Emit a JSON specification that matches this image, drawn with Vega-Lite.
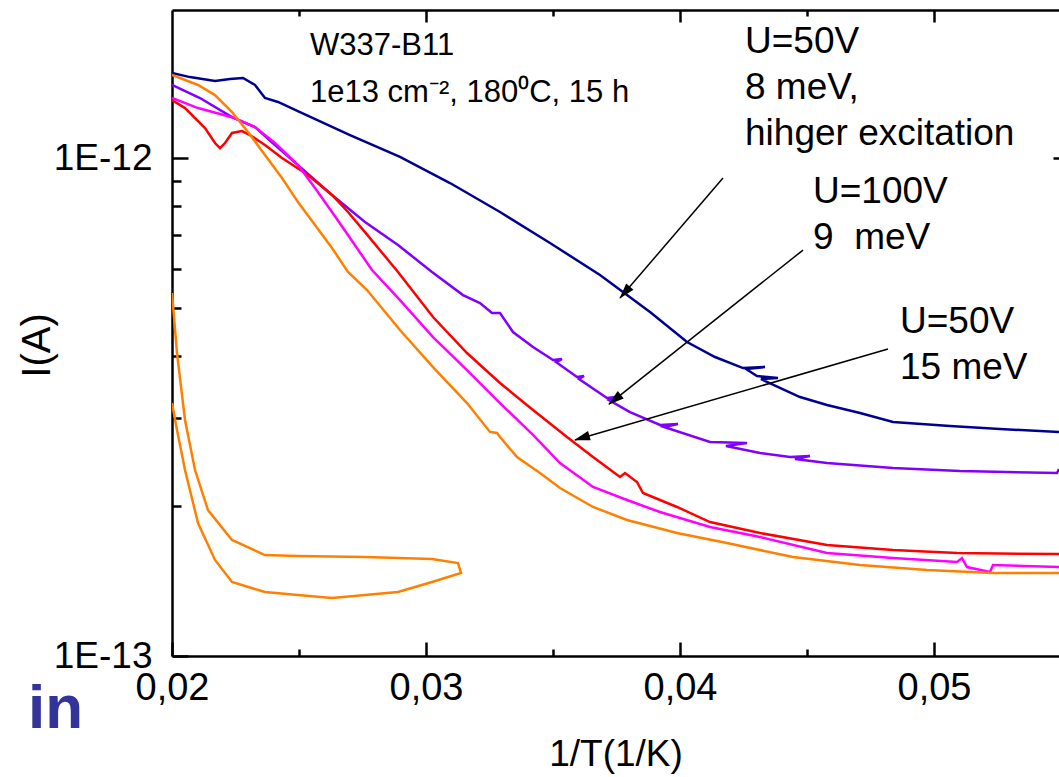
{
  "$schema": "https://vega.github.io/schema/vega-lite/v6.json",
  "width": 887,
  "height": 646,
  "autosize": {"type": "none"},
  "padding": {"left": 172, "top": 10, "right": 0, "bottom": 121},
  "background": "white",
  "config": {
    "view": {"stroke": null},
    "font": "Liberation Sans",
    "axis": {
      "grid": false, "domainColor": "black", "tickColor": "black", "labelColor": "black", "titleColor": "black",
      "domainWidth": 2.5, "tickWidth": 2.5, "labelFont": "Liberation Sans", "titleFont": "Liberation Sans",
      "titleFontWeight": "normal", "labelFlush": false, "labelOverlap": false, "labelBound": false, "offset": 0
    }
  },
  "datasets": {
    "curves": [
      {"s":"navy","i":0,"x":0.02,"y":1.482e-12},{"s":"navy","i":1,"x":0.020709,"y":1.454e-12},{"s":"navy","i":2,"x":0.021693,"y":1.428e-12},{"s":"navy","i":3,"x":0.022283,"y":1.441e-12},{"s":"navy","i":4,"x":0.022795,"y":1.448e-12},{"s":"navy","i":5,"x":0.023268,"y":1.402e-12},{"s":"navy","i":6,"x":0.023661,"y":1.32e-12},{"s":"navy","i":7,"x":0.024173,"y":1.296e-12},{"s":"navy","i":8,"x":0.025039,"y":1.237e-12},{"s":"navy","i":9,"x":0.027008,"y":1.112e-12},{"s":"navy","i":10,"x":0.028976,"y":1.005e-12},{"s":"navy","i":11,"x":0.030945,"y":8.909e-13},{"s":"navy","i":12,"x":0.032913,"y":7.792e-13},{"s":"navy","i":13,"x":0.034882,"y":6.751e-13},{"s":"navy","i":14,"x":0.03685,"y":5.824e-13},{"s":"navy","i":15,"x":0.038819,"y":4.908e-13},{"s":"navy","i":16,"x":0.040276,"y":4.271e-13},{"s":"navy","i":17,"x":0.041378,"y":3.985e-13},{"s":"navy","i":18,"x":0.042482,"y":3.787e-13},{"s":"navy","i":19,"x":0.043346,"y":3.804e-13},{"s":"navy","i":20,"x":0.042598,"y":3.771e-13},{"s":"navy","i":21,"x":0.043031,"y":3.65e-13},{"s":"navy","i":22,"x":0.043858,"y":3.616e-13},{"s":"navy","i":23,"x":0.043189,"y":3.599e-13},{"s":"navy","i":24,"x":0.044724,"y":3.312e-13},{"s":"navy","i":25,"x":0.045787,"y":3.192e-13},{"s":"navy","i":26,"x":0.047087,"y":3.076e-13},{"s":"navy","i":27,"x":0.048386,"y":2.951e-13},{"s":"navy","i":28,"x":0.05063,"y":2.897e-13},{"s":"navy","i":29,"x":0.052598,"y":2.857e-13},{"s":"navy","i":30,"x":0.054921,"y":2.818e-13},

      {"s":"violet","i":0,"x":0.02,"y":1.402e-12},{"s":"violet","i":1,"x":0.021102,"y":1.32e-12},{"s":"violet","i":2,"x":0.022362,"y":1.208e-12},{"s":"violet","i":3,"x":0.023268,"y":1.154e-12},{"s":"violet","i":4,"x":0.024055,"y":1.062e-12},{"s":"violet","i":5,"x":0.024961,"y":9.68e-13},{"s":"violet","i":6,"x":0.026299,"y":8.429e-13},{"s":"violet","i":7,"x":0.027598,"y":7.438e-13},{"s":"violet","i":8,"x":0.028898,"y":6.689e-13},{"s":"violet","i":9,"x":0.030236,"y":5.904e-13},{"s":"violet","i":10,"x":0.031457,"y":5.307e-13},{"s":"violet","i":11,"x":0.032126,"y":5.114e-13},{"s":"violet","i":12,"x":0.032598,"y":4.885e-13},{"s":"violet","i":13,"x":0.032913,"y":4.885e-13},{"s":"violet","i":14,"x":0.033425,"y":4.473e-13},{"s":"violet","i":15,"x":0.034213,"y":4.174e-13},{"s":"violet","i":16,"x":0.035,"y":3.93e-13},{"s":"violet","i":17,"x":0.035354,"y":3.948e-13},{"s":"violet","i":18,"x":0.035118,"y":3.894e-13},{"s":"violet","i":19,"x":0.035945,"y":3.633e-13},{"s":"violet","i":20,"x":0.036221,"y":3.65e-13},{"s":"violet","i":21,"x":0.036024,"y":3.599e-13},{"s":"violet","i":22,"x":0.037126,"y":3.297e-13},{"s":"violet","i":23,"x":0.03748,"y":3.312e-13},{"s":"violet","i":24,"x":0.037205,"y":3.266e-13},{"s":"violet","i":25,"x":0.038031,"y":3.09e-13},{"s":"violet","i":26,"x":0.039213,"y":2.91e-13},{"s":"violet","i":27,"x":0.039921,"y":2.924e-13},{"s":"violet","i":28,"x":0.03937,"y":2.883e-13},{"s":"violet","i":29,"x":0.041181,"y":2.69e-13},{"s":"violet","i":30,"x":0.042638,"y":2.678e-13},{"s":"violet","i":31,"x":0.04181,"y":2.641e-13},{"s":"violet","i":32,"x":0.04315,"y":2.556e-13},{"s":"violet","i":33,"x":0.04433,"y":2.509e-13},{"s":"violet","i":34,"x":0.045118,"y":2.521e-13},{"s":"violet","i":35,"x":0.044527,"y":2.486e-13},{"s":"violet","i":36,"x":0.045787,"y":2.441e-13},{"s":"violet","i":37,"x":0.048386,"y":2.385e-13},{"s":"violet","i":38,"x":0.051024,"y":2.352e-13},{"s":"violet","i":39,"x":0.054843,"y":2.33e-13},{"s":"violet","i":40,"x":0.054921,"y":2.374e-13},

      {"s":"red","i":0,"x":0.02,"y":1.308e-12},{"s":"red","i":1,"x":0.020512,"y":1.26e-12},{"s":"red","i":2,"x":0.021299,"y":1.149e-12},{"s":"red","i":3,"x":0.021693,"y":1.072e-12},{"s":"red","i":4,"x":0.02189,"y":1.047e-12},{"s":"red","i":5,"x":0.022087,"y":1.072e-12},{"s":"red","i":6,"x":0.022362,"y":1.123e-12},{"s":"red","i":7,"x":0.022756,"y":1.133e-12},{"s":"red","i":8,"x":0.023071,"y":1.112e-12},{"s":"red","i":9,"x":0.023661,"y":1.062e-12},{"s":"red","i":10,"x":0.024331,"y":1.0e-12},{"s":"red","i":11,"x":0.025354,"y":9.245e-13},{"s":"red","i":12,"x":0.026299,"y":8.429e-13},{"s":"red","i":13,"x":0.026929,"y":7.792e-13},{"s":"red","i":14,"x":0.027598,"y":7.101e-13},{"s":"red","i":15,"x":0.028898,"y":5.904e-13},{"s":"red","i":16,"x":0.030276,"y":4.795e-13},{"s":"red","i":17,"x":0.031614,"y":4.059e-13},{"s":"red","i":18,"x":0.032913,"y":3.534e-13},{"s":"red","i":19,"x":0.034213,"y":3.119e-13},{"s":"red","i":20,"x":0.035551,"y":2.753e-13},{"s":"red","i":21,"x":0.036575,"y":2.509e-13},{"s":"red","i":22,"x":0.037638,"y":2.288e-13},{"s":"red","i":23,"x":0.037835,"y":2.33e-13},{"s":"red","i":24,"x":0.038307,"y":2.236e-13},{"s":"red","i":25,"x":0.038543,"y":2.125e-13},{"s":"red","i":26,"x":0.039882,"y":1.992e-13},{"s":"red","i":27,"x":0.041181,"y":1.858e-13},{"s":"red","i":28,"x":0.04315,"y":1.766e-13},{"s":"red","i":29,"x":0.045787,"y":1.671e-13},{"s":"red","i":30,"x":0.048386,"y":1.633e-13},{"s":"red","i":31,"x":0.050906,"y":1.61e-13},{"s":"red","i":32,"x":0.054921,"y":1.602e-13},

      {"s":"magenta","i":0,"x":0.02,"y":1.32e-12},{"s":"magenta","i":1,"x":0.021024,"y":1.26e-12},{"s":"magenta","i":2,"x":0.022362,"y":1.208e-12},{"s":"magenta","i":3,"x":0.023268,"y":1.154e-12},{"s":"magenta","i":4,"x":0.024055,"y":1.072e-12},{"s":"magenta","i":5,"x":0.024961,"y":9.68e-13},{"s":"magenta","i":6,"x":0.02563,"y":8.706e-13},{"s":"magenta","i":7,"x":0.026299,"y":7.792e-13},{"s":"magenta","i":8,"x":0.026929,"y":7.004e-13},{"s":"magenta","i":9,"x":0.027874,"y":5.958e-13},{"s":"magenta","i":10,"x":0.028976,"y":5.186e-13},{"s":"magenta","i":11,"x":0.030276,"y":4.371e-13},{"s":"magenta","i":12,"x":0.031614,"y":3.752e-13},{"s":"magenta","i":13,"x":0.032913,"y":3.221e-13},{"s":"magenta","i":14,"x":0.034213,"y":2.779e-13},{"s":"magenta","i":15,"x":0.035276,"y":2.441e-13},{"s":"magenta","i":16,"x":0.036575,"y":2.185e-13},{"s":"magenta","i":17,"x":0.037913,"y":2.057e-13},{"s":"magenta","i":18,"x":0.039213,"y":1.946e-13},{"s":"magenta","i":19,"x":0.041181,"y":1.816e-13},{"s":"magenta","i":20,"x":0.04315,"y":1.734e-13},{"s":"magenta","i":21,"x":0.045787,"y":1.61e-13},{"s":"magenta","i":22,"x":0.048386,"y":1.573e-13},{"s":"magenta","i":23,"x":0.050906,"y":1.545e-13},{"s":"magenta","i":24,"x":0.051102,"y":1.573e-13},{"s":"magenta","i":25,"x":0.051299,"y":1.509e-13},{"s":"magenta","i":26,"x":0.052205,"y":1.475e-13},{"s":"magenta","i":27,"x":0.052323,"y":1.523e-13},{"s":"magenta","i":28,"x":0.054921,"y":1.509e-13},

      {"s":"orange","i":0,"x":0.02,"y":1.468e-12},{"s":"orange","i":1,"x":0.021024,"y":1.402e-12},{"s":"orange","i":2,"x":0.021693,"y":1.338e-12},{"s":"orange","i":3,"x":0.022362,"y":1.237e-12},{"s":"orange","i":4,"x":0.022992,"y":1.128e-12},{"s":"orange","i":5,"x":0.023661,"y":1.014e-12},{"s":"orange","i":6,"x":0.024331,"y":9.116e-13},{"s":"orange","i":7,"x":0.024961,"y":8.157e-13},{"s":"orange","i":8,"x":0.02563,"y":7.336e-13},{"s":"orange","i":9,"x":0.026299,"y":6.597e-13},{"s":"orange","i":10,"x":0.026929,"y":5.904e-13},{"s":"orange","i":11,"x":0.027677,"y":5.432e-13},{"s":"orange","i":12,"x":0.028976,"y":4.515e-13},{"s":"orange","i":13,"x":0.030276,"y":3.804e-13},{"s":"orange","i":14,"x":0.031614,"y":3.221e-13},{"s":"orange","i":15,"x":0.03252,"y":2.818e-13},{"s":"orange","i":16,"x":0.032795,"y":2.804e-13},{"s":"orange","i":17,"x":0.032913,"y":2.753e-13},{"s":"orange","i":18,"x":0.033583,"y":2.509e-13},{"s":"orange","i":19,"x":0.034488,"y":2.33e-13},{"s":"orange","i":20,"x":0.035276,"y":2.175e-13},{"s":"orange","i":21,"x":0.036575,"y":1.992e-13},{"s":"orange","i":22,"x":0.037913,"y":1.876e-13},{"s":"orange","i":23,"x":0.039882,"y":1.766e-13},{"s":"orange","i":24,"x":0.04185,"y":1.687e-13},{"s":"orange","i":25,"x":0.044449,"y":1.58e-13},{"s":"orange","i":26,"x":0.047087,"y":1.523e-13},{"s":"orange","i":27,"x":0.049724,"y":1.488e-13},{"s":"orange","i":28,"x":0.052323,"y":1.468e-13},{"s":"orange","i":29,"x":0.054921,"y":1.468e-13},

      {"s":"orange-loop","i":0,"x":0.02,"y":5.356e-13},{"s":"orange-loop","i":1,"x":0.020197,"y":4.059e-13},{"s":"orange-loop","i":2,"x":0.020512,"y":2.978e-13},{"s":"orange-loop","i":3,"x":0.020906,"y":2.363e-13},{"s":"orange-loop","i":4,"x":0.021417,"y":1.964e-13},{"s":"orange-loop","i":5,"x":0.022362,"y":1.71e-13},{"s":"orange-loop","i":6,"x":0.023661,"y":1.595e-13},{"s":"orange-loop","i":7,"x":0.024961,"y":1.588e-13},{"s":"orange-loop","i":8,"x":0.027598,"y":1.58e-13},{"s":"orange-loop","i":9,"x":0.030236,"y":1.566e-13},{"s":"orange-loop","i":10,"x":0.03126,"y":1.537e-13},{"s":"orange-loop","i":11,"x":0.031378,"y":1.468e-13},{"s":"orange-loop","i":12,"x":0.030236,"y":1.408e-13},{"s":"orange-loop","i":13,"x":0.028898,"y":1.344e-13},{"s":"orange-loop","i":14,"x":0.027598,"y":1.326e-13},{"s":"orange-loop","i":15,"x":0.026299,"y":1.308e-13},{"s":"orange-loop","i":16,"x":0.024961,"y":1.326e-13},{"s":"orange-loop","i":17,"x":0.023661,"y":1.344e-13},{"s":"orange-loop","i":18,"x":0.022362,"y":1.408e-13},{"s":"orange-loop","i":19,"x":0.021693,"y":1.559e-13},{"s":"orange-loop","i":20,"x":0.021024,"y":1.849e-13},{"s":"orange-loop","i":21,"x":0.020512,"y":2.363e-13},{"s":"orange-loop","i":22,"x":0.020197,"y":2.843e-13},{"s":"orange-loop","i":23,"x":0.02,"y":3.221e-13}
    ],
    "arrows": [
      {"x":0.041693,"y":9.116e-13,"x2":0.037638,"y2":5.235e-13},
      {"x":0.044843,"y":6.534e-13,"x2":0.037205,"y2":3.206e-13},
      {"x":0.048189,"y":4.135e-13,"x2":0.035866,"y2":2.715e-13}
    ],
    "notes": [
      {"x":0.042559,"y":1.625e-12,"t":"U=50V\n8 meV,\nhihger excitation"},
      {"x":0.045236,"y":8.12e-13,"t":"U=100V\n9\u00a0 meV"},
      {"x":0.048661,"y":4.452e-13,"t":"U=50V\n15 meV"}
    ]
  },
  "encoding": {
    "x": {"field": "x", "type": "quantitative", "scale": {"domain": [0.02, 0.054921], "nice": false, "zero": false}},
    "y": {"field": "y", "type": "quantitative", "scale": {"type": "log", "domain": [1e-13, 1.983e-12], "nice": false}}
  },
  "resolve": {"axis": {"x": "independent", "y": "independent"}},
  "layer": [
    {
      "data": {"name": "curves"},
      "mark": {"type": "line", "strokeWidth": 2.5, "clip": true},
      "encoding": {
        "x": {"field": "x", "type": "quantitative",
          "axis": {"orient": "bottom", "values": [0.02, 0.03, 0.04, 0.05], "tickSize": -14, "labelExpr": "replace(format(datum.value, '.2f'), '.', ',')", "labelFontSize": 38, "labelPadding": 27, "title": "1/T(1/K)", "titleFontSize": 37, "titleY": 109, "titleBaseline": "alphabetic"}},
        "y": {"field": "y", "type": "quantitative",
          "axis": {"orient": "left", "values": [1e-13, 1e-12], "tickSize": -16, "labelExpr": "datum.value < 5e-13 ? '1E-13' : '1E-12'", "labelFontSize": 37, "labelPadding": 36, "title": "I(A)", "titleFontSize": 40, "titleX": -123, "titleY": 335, "titleBaseline": "alphabetic"}},
        "color": {"field": "s", "type": "nominal", "legend": null,
          "scale": {"domain": ["navy", "violet", "red", "magenta", "orange", "orange-loop"], "range": ["#000090", "#8000ff", "#ff0000", "#ff00ff", "#ff8000", "#ff8000"]}},
        "order": {"field": "i", "type": "quantitative"}
      }
    },
    {
      "data": {"name": "arrows"},
      "mark": {"type": "rule", "color": "black", "strokeWidth": 1.5},
      "encoding": {
        "x": {"field": "x", "type": "quantitative",
          "axis": {"orient": "bottom", "values": [0.025, 0.035, 0.045], "tickSize": -7, "labels": false, "domain": false, "title": null}},
        "y": {"field": "y", "type": "quantitative",
          "axis": {"orient": "left", "values": [2e-13, 3e-13, 4e-13, 5e-13, 6e-13, 7e-13, 8e-13, 9e-13], "tickSize": -9, "labels": false, "domain": false, "title": null}},
        "x2": {"field": "x2"},
        "y2": {"field": "y2"}
      }
    },
    {
      "data": {"name": "notes"},
      "mark": {"type": "text", "align": "left", "baseline": "alphabetic", "fontSize": 37, "lineBreak": "\n", "lineHeight": 46, "color": "black", "font": "Liberation Sans"},
      "encoding": {
        "x": {"field": "x", "type": "quantitative",
          "axis": {"orient": "top", "values": [0.03, 0.04, 0.05], "tickSize": -12, "labels": false, "domain": true, "title": null}},
        "y": {"field": "y", "type": "quantitative",
          "axis": {"orient": "right", "values": [1e-12], "tickSize": -6, "labels": false, "domain": false, "title": null}},
        "text": {"field": "t"}
      }
    },
    {
      "data": {"values": [{"x": 0.025433, "y": 1.61e-12, "t": "W337-B11\n1e13 cm⁻², 180⁰C, 15 h"}]},
      "mark": {"type": "text", "align": "left", "baseline": "alphabetic", "fontSize": 31, "lineBreak": "\n", "lineHeight": 47, "color": "black", "font": "Liberation Sans"},
      "encoding": {
        "x": {"field": "x", "type": "quantitative",
          "axis": {"orient": "top", "values": [0.025, 0.035, 0.045], "tickSize": -6, "labels": false, "domain": false, "title": null}},
        "y": {"field": "y", "type": "quantitative", "axis": null},
        "text": {"field": "t"}
      }
    },
    {
      "data": {"values": [{"x": 0.014331, "y": 7.166e-14, "t": "in"}]},
      "mark": {"type": "text", "align": "left", "baseline": "alphabetic", "fontSize": 62, "fontWeight": "bold", "color": "#333399", "font": "Liberation Sans"},
      "encoding": {
        "x": {"field": "x", "type": "quantitative", "axis": null},
        "y": {"field": "y", "type": "quantitative", "axis": null},
        "text": {"field": "t"}
      }
    },
    {
      "data": {"values": [{"x": 0.037819, "y": 5.364e-13}]},
      "mark": {"type": "point", "shape": "M0,-1L-0.6,1L0.6,1Z", "size": 256, "angle": 220.6, "filled": true, "color": "black", "opacity": 1, "strokeWidth": 0},
      "encoding": {
        "x": {"field": "x", "type": "quantitative", "axis": null},
        "y": {"field": "y", "type": "quantitative", "axis": null}
      }
    },
    {
      "data": {"values": [{"x": 0.037421, "y": 3.271e-13}]},
      "mark": {"type": "point", "shape": "M0,-1L-0.6,1L0.6,1Z", "size": 256, "angle": 231.6, "filled": true, "color": "black", "opacity": 1, "strokeWidth": 0},
      "encoding": {
        "x": {"field": "x", "type": "quantitative", "axis": null},
        "y": {"field": "y", "type": "quantitative", "axis": null}
      }
    },
    {
      "data": {"values": [{"x": 0.03613, "y": 2.741e-13}]},
      "mark": {"type": "point", "shape": "M0,-1L-0.6,1L0.6,1Z", "size": 256, "angle": 253.8, "filled": true, "color": "black", "opacity": 1, "strokeWidth": 0},
      "encoding": {
        "x": {"field": "x", "type": "quantitative", "axis": null},
        "y": {"field": "y", "type": "quantitative", "axis": null}
      }
    }
  ]
}
